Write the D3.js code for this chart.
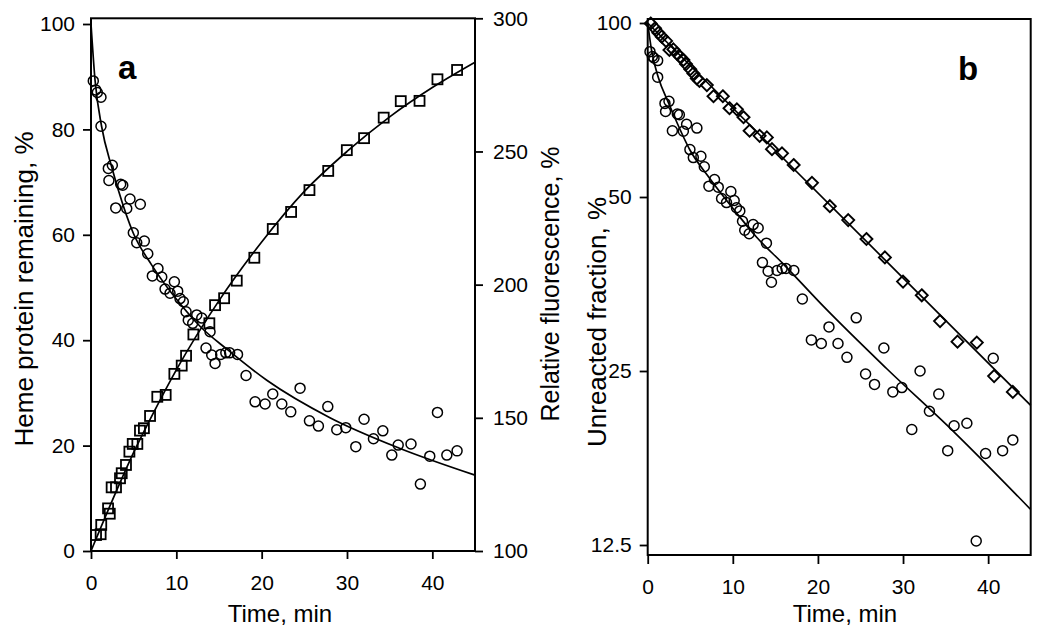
<!DOCTYPE html>
<html><head><meta charset="utf-8">
<script src="https://cdn.jsdelivr.net/npm/d3@7/dist/d3.min.js"></script>
<style>
body{margin:0;background:#fff}
svg{display:block}
text{font-family:"Liberation Sans",Arial,sans-serif;fill:#000}
</style>
</head><body>
<svg id="c" width="1050" height="636"></svg>
<script>
// ---- data ----
// heme protein remaining (%), open circles (panel a linear, panel b log)
const hemeT=[0.27,0.55,0.74,1.17,1.17,2.03,2.50,2.10,3.48,3.72,4.57,2.90,4.19,5.78,4.96,5.36,6.25,6.65,7.19,7.85,8.29,8.68,9.77,9.26,10.16,10.43,10.82,11.14,11.40,12.39,11.92,12.98,13.95,13.48,14.15,14.54,15.20,15.80,16.25,17.17,18.17,19.23,20.40,21.30,22.36,23.41,24.50,25.60,26.65,27.75,28.80,29.86,31.03,32.00,33.10,34.20,35.25,36.00,37.50,38.60,39.70,40.60,41.70,42.90];
const hemeV=[89.2,87.5,87.0,86.1,80.6,72.6,73.2,70.3,69.6,69.4,66.8,65.1,65.0,65.8,60.4,58.5,58.8,56.4,52.2,53.6,52.0,49.7,51.1,48.9,49.3,47.9,47.3,45.4,43.8,44.8,43.2,44.2,41.6,38.5,37.2,35.6,37.3,37.6,37.6,37.3,33.3,28.3,27.9,29.8,27.9,26.4,30.9,24.7,23.7,27.4,23.0,23.4,19.8,25.0,21.3,22.8,18.2,20.1,20.3,12.7,18.0,26.3,18.2,19.0];
// fitted heme curve
const hemeFitT=[0,0.47,1.25,2.42,3.2,4.96,7.1,10.4,12.8,16,20.6,28,36,45];
const hemeFitV=[100,89.4,80.5,72.9,68.5,60.3,54.3,47,42.6,38.2,32.4,25.3,19.6,14.4];
// relative fluorescence (%), open squares, right axis of panel a
const fluorT=[0.59,1.13,1.20,2.00,2.20,2.42,2.93,3.40,3.60,4.10,4.50,4.89,5.43,5.74,6.20,6.92,7.77,8.75,9.77,10.63,11.14,12.00,13.87,14.54,15.60,17.08,19.14,21.30,23.45,25.60,27.80,29.98,32.00,34.30,36.30,38.50,40.60,42.90];
const fluorV=[106.0,106.3,109.8,116.0,114.0,123.9,123.9,127.3,129.2,132.3,137.3,140.2,140.2,145.2,146.1,150.7,157.9,158.6,166.5,169.6,173.3,181.3,185.5,192.3,194.9,201.5,210.1,220.9,227.3,235.5,242.7,250.5,255.0,262.7,268.9,269.0,277.1,280.6];
const fluorFitT=[0,2.5,5,7.5,10,15,20,25,30,35,40,45];
const fluorFitV=[100,119,137,153,168,194,216,235,250,263,274,283.5];
// unreacted fraction (%), open diamonds, panel b
const unreactT=[0.35,0.86,1.25,1.65,2.16,2.55,3.02,3.42,3.80,4.20,4.50,5.00,5.37,5.77,6.08,6.95,7.73,8.83,9.61,10.48,11.26,11.97,13.15,14.00,14.60,15.78,17.15,19.30,21.40,23.56,25.70,27.87,30.00,32.20,34.35,36.40,38.67,40.70,42.90];
const unreactV=[99.8,97.9,96.2,94.7,93.1,89.8,90.0,88.6,87.4,86.3,84.9,83.2,81.8,80.2,79.4,78.1,74.7,74.7,71.2,70.9,68.7,65.1,63.8,63.4,60.5,59.5,56.8,52.9,48.2,45.6,42.3,39.3,35.7,33.8,30.5,28.1,28.0,24.5,23.0];
const unreactFitT=[0,45];
const unreactFitV=[100,21.8];
// ticks
const timeTicks=[0,10,20,30,40];
const hemeTicks=[0,20,40,60,80,100];
const fluorTicks=[100,150,200,250,300];
const logTicks=[12.5,25,50,100];

const zip=(a,b)=>a.map((d,i)=>[d,b[i]]);
const svg=d3.select("#c");

// ---- scales ----
const xA=d3.scaleLinear().domain([0,45]).range([91,475]);
const yA=d3.scaleLinear().domain([0,100]).range([551,24]);
const yA2=d3.scaleLinear().domain([100,300]).range([551,18.3]);
const xB=d3.scaleLinear().domain([0,45]).range([647.7,1030.7]);
const yB=d3.scaleLog().domain([12.5,100]).range([545,23]);

const FS=21;
function styleAxis(g){
  g.select(".domain").remove();
  g.attr("font-family",null).attr("font-size",null);
  g.selectAll(".tick line").attr("stroke","#000").attr("stroke-width",1.8);
  g.selectAll(".tick text").style("font-size",FS+"px").style("font-family",'"Liberation Sans",Arial,sans-serif');
}
// ---- panel a ----
const gA=svg.append("g");
gA.append("g").attr("transform",`translate(0,${yA(0)})`)
  .call(d3.axisBottom(xA).tickValues(timeTicks).tickSize(8).tickPadding(16).tickFormat(d3.format("d")))
  .call(styleAxis);
gA.append("g").attr("transform",`translate(${xA(0)},0)`)
  .call(d3.axisLeft(yA).tickValues(hemeTicks).tickSize(8).tickPadding(8).tickFormat(d3.format("d")))
  .call(styleAxis);
gA.append("g").attr("transform",`translate(${xA(45)},0)`)
  .call(d3.axisRight(yA2).tickValues(fluorTicks).tickSize(8).tickPadding(10).tickFormat(d3.format("d")))
  .call(styleAxis);
gA.append("rect").attr("x",xA(0)).attr("y",yA2(300)).attr("width",xA(45)-xA(0)).attr("height",yA(0)-yA2(300))
  .attr("fill","none").attr("stroke","#000").attr("stroke-width",2);

const lineA=d3.line().curve(d3.curveMonotoneX);
gA.append("path").attr("d",lineA(zip(hemeFitT,hemeFitV).map(d=>[xA(d[0]),yA(d[1])])))
  .attr("fill","none").attr("stroke","#000").attr("stroke-width",1.7);
gA.append("path").attr("d",lineA(zip(fluorFitT,fluorFitV).map(d=>[xA(d[0]),yA2(d[1])])))
  .attr("fill","none").attr("stroke","#000").attr("stroke-width",1.7);
gA.append("g").selectAll("circle").data(zip(hemeT,hemeV)).join("circle")
  .attr("cx",d=>xA(d[0])).attr("cy",d=>yA(d[1])).attr("r",5)
  .attr("fill","none").attr("stroke","#000").attr("stroke-width",1.5);
gA.append("g").selectAll("rect").data(zip(fluorT,fluorV)).join("rect")
  .attr("x",d=>xA(d[0])-5).attr("y",d=>yA2(d[1])-5).attr("width",10).attr("height",10)
  .attr("fill","none").attr("stroke","#000").attr("stroke-width",1.8);

gA.append("text").attr("x",118).attr("y",79).attr("font-size",33).attr("font-weight","bold").text("a");
gA.append("text").attr("x",280).attr("y",622).attr("text-anchor","middle").attr("font-size",24).text("Time, min");
gA.append("text").attr("transform","translate(33,289) rotate(-90)").attr("text-anchor","middle").attr("font-size",26).text("Heme protein remaining, %");
gA.append("text").attr("transform","translate(559,284) rotate(-90)").attr("text-anchor","middle").attr("font-size",25).text("Relative fluorescence, %");

// ---- panel b ----
const gB=svg.append("g");
const yBtop=19, yBbot=555;
gB.append("g").attr("transform",`translate(0,${yBbot})`)
  .call(d3.axisBottom(xB).tickValues(timeTicks).tickSize(9).tickPadding(15).tickFormat(d3.format("d")))
  .call(styleAxis);
gB.append("g").attr("transform",`translate(${xB(0)},0)`)
  .call(d3.axisLeft(yB).tickValues(logTicks).tickSize(8).tickPadding(8).tickFormat(d=>d===12.5?"12.5":d3.format("d")(d)))
  .call(styleAxis);
gB.append("rect").attr("x",xB(0)).attr("y",yBtop).attr("width",xB(45)-xB(0)).attr("height",yBbot-yBtop)
  .attr("fill","none").attr("stroke","#000").attr("stroke-width",2);
gB.append("path").attr("d",lineA(zip(hemeFitT,hemeFitV).map(d=>[xB(d[0]),yB(d[1])])))
  .attr("fill","none").attr("stroke","#000").attr("stroke-width",1.7);
gB.append("path").attr("d",d3.line()(zip(unreactFitT,unreactFitV).map(d=>[xB(d[0]),yB(d[1])])))
  .attr("fill","none").attr("stroke","#000").attr("stroke-width",1.7);
gB.append("g").selectAll("circle").data(zip(hemeT,hemeV)).join("circle")
  .attr("cx",d=>xB(d[0])).attr("cy",d=>yB(d[1])).attr("r",5)
  .attr("fill","none").attr("stroke","#000").attr("stroke-width",1.5);
gB.append("g").selectAll("path.dm").data(zip(unreactT,unreactV)).join("path").attr("class","dm")
  .attr("transform",d=>`translate(${xB(d[0])},${yB(d[1])})`)
  .attr("d","M0,-6L6,0L0,6L-6,0Z")
  .attr("fill","none").attr("stroke","#000").attr("stroke-width",1.9);
gB.append("text").attr("x",958).attr("y",80).attr("font-size",33).attr("font-weight","bold").text("b");
gB.append("text").attr("x",845).attr("y",622).attr("text-anchor","middle").attr("font-size",24).text("Time, min");
gB.append("text").attr("transform","translate(606,322) rotate(-90)").attr("text-anchor","middle").attr("font-size",26).text("Unreacted fraction, %");
</script>
</body></html>
